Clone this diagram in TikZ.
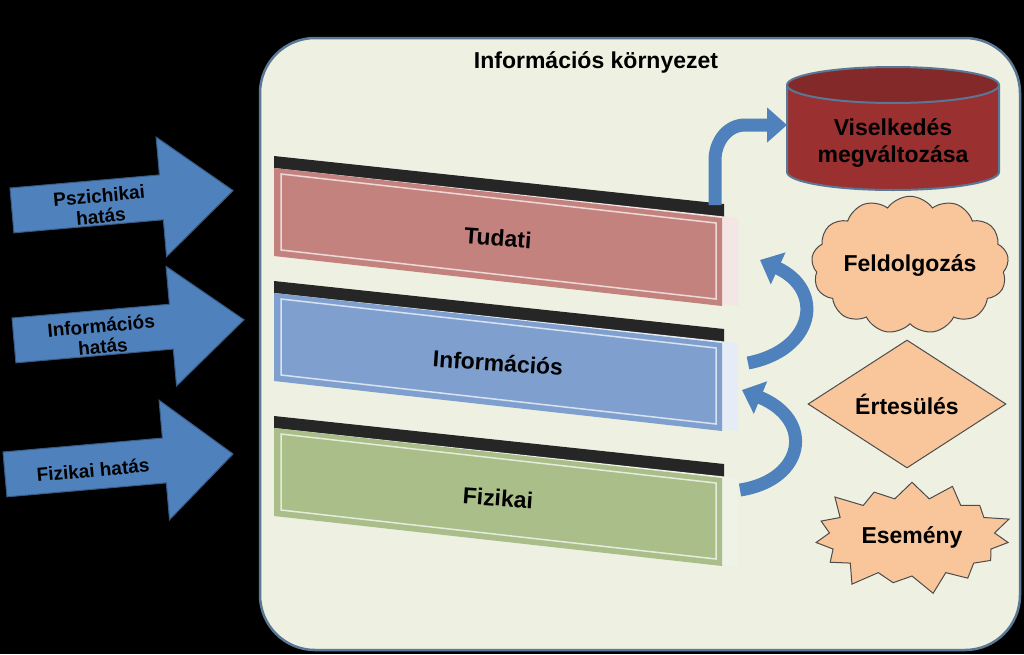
\documentclass[tikz,border=0pt]{standalone}
\usepackage{fontspec}
\setmainfont{Liberation Sans}
\usetikzlibrary{shapes.geometric,shapes.symbols,arrows.meta}
\definecolor{bluearr}{HTML}{4F81BD}
\definecolor{envfill}{HTML}{EEF1E1}
\definecolor{envline}{HTML}{5A7896}
\definecolor{peach}{HTML}{F9C59A}
\definecolor{redcyl}{HTML}{9B3030}
\definecolor{tudc}{HTML}{C4827F}
\definecolor{infc}{HTML}{7FA0CE}
\definecolor{fizc}{HTML}{A9BE88}
\tikzset{
  lbl/.style={font=\bfseries\fontsize{23}{27}\selectfont, align=center, text=black},
  barlbl/.style={lbl, rotate=-4},
  larrow/.style={fill=bluearr, draw=bluearr!70!black, line width=1pt},
  carrow/.style={draw=bluearr, line width=13pt, -{Triangle[width=34pt,length=20pt]}},
  rshape/.style={draw=black!70, line width=1pt, fill=peach, lbl}
}
\begin{document}
\begin{tikzpicture}[x=1pt,y=-1pt]
\fill[black] (0,0) rectangle (1024,654);
\useasboundingbox (0,0) rectangle (1024,654);
% environment
\draw[fill=envfill, draw=envline, line width=2.5pt, rounded corners=55pt] (260,38) rectangle (1020,650);
\node[lbl] (title) at (596,62) {Információs környezet};
% bars
\foreach \y/\c/\t/\n in {168/tudc/Tudati/tud, 293/infc/Információs/inf, 428/fizc/Fizikai/fiz}{
  \fill[black!85] (274,\y-12) -- (724,\y+36) -- (724,\y+50) -- (274,\y+2) -- cycle;
  \fill[white!80!\c] (274,\y) -- (738,\y+50) -- (738,\y+138) -- (274,\y+88) -- cycle;
  \fill[\c] (274,\y) -- (722,\y+50) -- (722,\y+138) -- (274,\y+88) -- cycle;
  \draw[white!70!\c, line width=1.5pt] (281,\y+6) -- (716,\y+55) -- (716,\y+131) -- (281,\y+82) -- cycle;
  \node[barlbl] (\n) at (498,\y+70) {\t};
}
% left arrows
\foreach \a/\b/\c/\d/\t/\n in {10/188/160/232/{Pszichikai\\hatás}/pa, 12/318/170/243/{Információs\\hatás}/ia, 3/452/163/232/{Fizikai hatás}/fa}{
  \begin{scope}[rotate around={5:(\a,\b)}]
  \draw[larrow] (\a,\b) -- (\c,\b) -- (\c,\b-38) -- (\d,\b+22) -- (\c,\b+82) -- (\c,\b+45) -- (\a,\b+45) -- cycle;
  \end{scope}
  \node[lbl, rotate=5, font=\bfseries\fontsize{19}{21}\selectfont] (\n) at (\a+90,\b+18) {\t};
}
% right shapes: cylinder
\fill[redcyl] (787,85) -- (787,172) arc[start angle=180,end angle=360,x radius=106pt,y radius=18pt] -- (999,85) -- cycle;
\draw[envline, line width=2pt] (787,85) -- (787,172) arc[start angle=180,end angle=360,x radius=106pt,y radius=18pt] -- (999,85);
\draw[envline, line width=2pt, fill=redcyl!85!black] (893,85) ellipse[x radius=106pt, y radius=18pt];
\node[lbl] (cyl) at (893,143) {Viselkedés\\megváltozása};
\coordinate (cylw) at (787,125);
\node[rshape, cloud, cloud puffs=13, cloud puff arc=110, aspect=1.6, minimum width=170pt, minimum height=105pt, inner sep=0pt] (cloud) at (910,265) {Feldolgozás};
\node[rshape, diamond, minimum width=198pt, minimum height=128pt, inner sep=0pt, aspect=1.55] (dia) at (907,404) {Értesülés};
\node[rshape, starburst, starburst points=15, starburst point height=22pt, minimum width=210pt, minimum height=122pt, inner sep=0pt] (star) at (912,537) {Esemény};
% curved arrows
\coordinate (c1) at (715,205);
\draw[carrow] (c1) -- (715,160) to[out=90,in=180] (745,125) -- (cylw);
\coordinate (c2) at (748,363);
\coordinate (c3) at (760,260);
\draw[carrow] (c2) .. controls (815,350) and (825,290) .. (c3);
\coordinate (c4) at (740,490);
\coordinate (c5) at (742,390);
\draw[carrow] (c4) .. controls (805,480) and (815,420) .. (c5);
\end{tikzpicture}
\end{document}
